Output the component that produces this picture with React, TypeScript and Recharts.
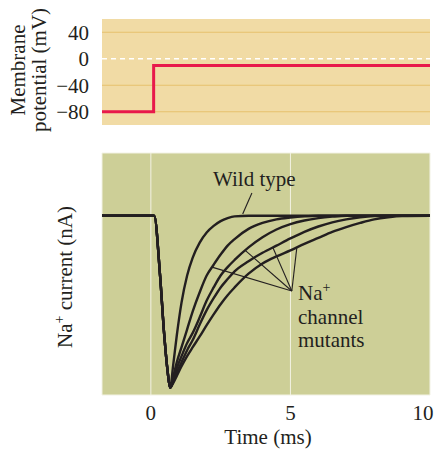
import { LineChart, Line, XAxis, YAxis, CartesianGrid, ReferenceLine } from 'recharts';

const FONT = '"Liberation Serif", "DejaVu Serif", serif';
const INK = '#231f20';

// top panel: command voltage step
const STEP_TIME = [-1.75, 0.1, 10];
const STEP_MV = [-80, -10, -10];
const MV_TICKS = [-80, -40, 0, 40];

// bottom panel: Na+ currents (nA)
const TIME = [-1.75, 0, 0.12, 0.33, 0.48, 0.6, 0.69, 0.8, 0.93, 1.1, 1.3, 1.5, 1.75, 2, 2.25, 2.5, 2.75, 3, 3.5, 4, 4.5, 5, 5.5, 6, 6.5, 7, 7.5, 8, 8.5, 9, 10];
const WILD = [0, 0, 0, -1, -2, -2.6, -2.88, -2.5, -2.0, -1.45, -1.0, -0.7, -0.45, -0.28, -0.17, -0.09, -0.04, -0.01, 0, 0, 0, 0, 0, 0, 0, 0, 0, 0, 0, 0, 0];
const MUT1 = [0, 0, 0, -1, -2, -2.6, -2.88, -2.7, -2.45, -2.2, -1.9, -1.6, -1.28, -1.0, -0.82, -0.65, -0.5, -0.39, -0.22, -0.12, -0.06, -0.03, -0.01, 0, 0, 0, 0, 0, 0, 0, 0];
const MUT2 = [0, 0, 0, -1, -2, -2.6, -2.88, -2.75, -2.55, -2.35, -2.13, -1.96, -1.7, -1.42, -1.2, -1.0, -0.86, -0.74, -0.53, -0.36, -0.23, -0.14, -0.08, -0.04, -0.015, 0, 0, 0, 0, 0, 0];
const MUT3 = [0, 0, 0, -1, -2, -2.6, -2.88, -2.78, -2.62, -2.45, -2.25, -2.08, -1.82, -1.58, -1.38, -1.2, -1.06, -0.93, -0.76, -0.62, -0.5, -0.38, -0.27, -0.18, -0.11, -0.06, -0.025, -0.005, 0, 0, 0];
const MUT4 = [0, 0, 0, -1, -2, -2.6, -2.88, -2.8, -2.68, -2.52, -2.35, -2.2, -2.02, -1.83, -1.65, -1.48, -1.33, -1.2, -0.97, -0.8, -0.68, -0.58, -0.47, -0.37, -0.27, -0.19, -0.12, -0.06, -0.025, -0.005, 0];
const TIME_TICKS = [0, 5, 10];
const NA_TICKS = [-2, -1, 0];

// annotation pointers (time, nA)
const MUTANT_HUB = { x: 5.05, y: -1.26 };
const MUTANT_TIPS = [
  { x: 2.19, y: -0.86 },
  { x: 3.38, y: -0.58 },
  { x: 4.37, y: -0.53 },
  { x: 5.23, y: -0.53 },
];
const WILD_POINTER = [{ x: 3.62, y: 0.38 }, { x: 3.29, y: 0.03 }];

const stepData = STEP_TIME.map((t, i) => ({ t, mv: STEP_MV[i] }));
const currentData = TIME.map((t, i) => ({
  t,
  wild: WILD[i],
  m1: MUT1[i],
  m2: MUT2[i],
  m3: MUT3[i],
  m4: MUT4[i],
}));

const tickStyle = { fontFamily: FONT, fontSize: 21, fill: INK };
const minus = (v: number) => String(v).replace('-', '\u2212');

// the last time label sits a little inside the plot edge, as in the figure
const TimeTick = ({ x = 0, y = 0, payload }: { x?: number; y?: number; payload?: { value: number } }) => {
  const v = payload?.value ?? 0;
  return (
    <text x={x} y={y} dy="0.71em" dx={v === 10 ? -7 : 0} textAnchor="middle" {...tickStyle}>
      {v}
    </text>
  );
};

export default function App() {
  return (
    <div style={{ position: 'absolute', left: 0, top: 0, width: 436, height: 450, background: '#fff' }}>
      <div style={{ position: 'absolute', left: 0, top: 0 }}>
        <LineChart width={436} height={130} data={stepData} margin={{ top: 19, right: 6, bottom: 5, left: 52 }}>
          <CartesianGrid horizontal={false} vertical={false} fill="#f1dba5" stroke="none" />
          <XAxis dataKey="t" type="number" domain={[-1.75, 10]} hide />
          <YAxis
            type="number"
            domain={[-100, 60]}
            ticks={MV_TICKS}
            interval={0}
            width={50}
            axisLine={false}
            tickLine={false}
            tickMargin={7}
            tickFormatter={minus}
            tick={tickStyle}
          />
          {[-80, -40, 40].map((v) => (
            <ReferenceLine key={v} y={v} stroke="#e6c16e" strokeWidth={1.2} />
          ))}
          <ReferenceLine y={0} stroke="#ffffff" strokeWidth={1.3} strokeDasharray="5 4" />
          <Line
            dataKey="mv"
            type="stepAfter"
            stroke="#e8194b"
            strokeWidth={3}
            dot={false}
            isAnimationActive={false}
          />
        </LineChart>
      </div>

      <div style={{ position: 'absolute', left: 0, top: 140 }}>
        <LineChart width={436} height={300} data={currentData} margin={{ top: 13, right: 6, bottom: 0, left: 102 }}>
          <CartesianGrid fill="#cdcf97" stroke="#f2f2e4" strokeWidth={1} />
          <XAxis
            dataKey="t"
            type="number"
            domain={[-1.75, 10]}
            ticks={TIME_TICKS}
            interval={0}
            height={45}
            axisLine={false}
            tickLine={false}
            tickMargin={4}
            tick={<TimeTick />}
          />
          <YAxis type="number" domain={[-3, 1.05]} ticks={NA_TICKS} width={0} axisLine={false} tickLine={false} tick={false} />
          {MUTANT_TIPS.map((p, i) => (
            <ReferenceLine key={i} segment={[MUTANT_HUB, p]} stroke={INK} strokeWidth={1.1} />
          ))}
          <ReferenceLine segment={WILD_POINTER} stroke={INK} strokeWidth={1.1} />
          {['m4', 'm3', 'm2', 'm1', 'wild'].map((k) => (
            <Line
              key={k}
              dataKey={k}
              type="monotone"
              stroke={INK}
              strokeWidth={2.4}
              dot={false}
              isAnimationActive={false}
            />
          ))}
        </LineChart>
      </div>

      <svg width={436} height={450} style={{ position: 'absolute', left: 0, top: 0, pointerEvents: 'none' }}>
        <g fontFamily={FONT} fontSize={21} fill={INK}>
          <text transform="translate(25,70) rotate(-90)" textAnchor="middle">Membrane</text>
          <text transform="translate(46,70) rotate(-90)" textAnchor="middle">potential (mV)</text>
          <text transform="translate(72,277) rotate(-90)" textAnchor="middle">
            Na<tspan dy={-8} fontSize={14}>+</tspan>
            <tspan dy={8}> current (nA)</tspan>
          </text>
          <text x={268} y={444} textAnchor="middle">Time (ms)</text>
          <text x={213} y={186}>Wild type</text>
          <text x={298} y={300}>
            Na<tspan dy={-8} fontSize={14}>+</tspan>
          </text>
          <text x={298} y={324}>channel</text>
          <text x={298} y={347}>mutants</text>
        </g>
      </svg>
    </div>
  );
}
